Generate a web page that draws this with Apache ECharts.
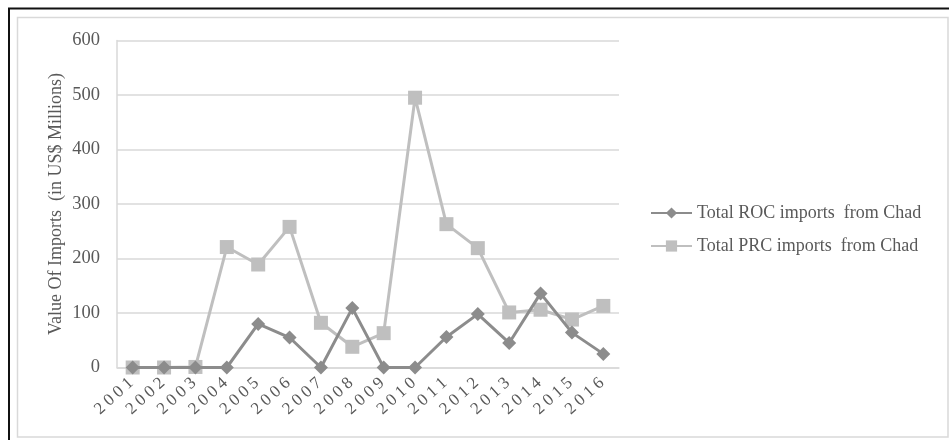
<!DOCTYPE html>
<html>
<head>
<meta charset="utf-8">
<script src="https://cdn.jsdelivr.net/npm/echarts@6/dist/echarts.min.js"></script>
<style>
  html, body { margin: 0; padding: 0; background: #ffffff; }
  #chart { width: 949px; height: 440px; }
</style>
</head>
<body>
<div id="chart"></div>
<script>
// Years on the category axis
const years = ['2001','2002','2003','2004','2005','2006','2007','2008',
               '2009','2010','2011','2012','2013','2014','2015','2016'];
// Imports from Chad, US$ millions
const rocImports = [0, 0, 0, 0, 80, 55, 0, 109, 0, 0, 56, 98, 45, 136, 64, 25];
const prcImports = [0, 0, 1, 221, 189, 258, 82, 38, 63, 495, 263, 219, 101, 106, 88, 113];
const seriesNames = ['Total ROC imports  from Chad', 'Total PRC imports  from Chad'];
const yTicks = { min: 0, max: 600, interval: 100 };

const font = 'Liberation Serif, Times New Roman, serif';
const textGray = '#595959';
const gridGray = '#d9d9d9';

const chart = echarts.init(document.getElementById('chart'), null, { renderer: 'canvas' });

// spread the digits of a year label apart (each digit is its own rich fragment)
function spacedYear(value) {
  return String(value).split('').map(function (ch) { return '{d|' + ch + '}'; }).join('');
}

chart.setOption({
  backgroundColor: '#ffffff',
  animation: false,
  textStyle: { fontFamily: font, color: textGray },
  graphic: [
    // inner light frame
    { type: 'rect', silent: true, z: 0,
      shape: { x: 17.5, y: 17.5, width: 930.5, height: 419.5 },
      style: { fill: 'none', stroke: '#d9d9d9', lineWidth: 1.5 } },
    // dark frame along the top and left
    { type: 'line', silent: true, z: 0,
      shape: { x1: 8, y1: 8.5, x2: 949, y2: 8.5 },
      style: { stroke: '#111111', lineWidth: 2 } },
    { type: 'line', silent: true, z: 0,
      shape: { x1: 9, y1: 8, x2: 9, y2: 440 },
      style: { stroke: '#111111', lineWidth: 2 } }
  ],
  grid: { left: 117, right: 330, top: 40.5, bottom: 72.5, containLabel: false },
  legend: {
    orient: 'vertical',
    left: 650,
    top: 204,
    padding: 0,
    itemGap: 15,
    itemWidth: 41,
    itemHeight: 14,
    textStyle: { fontFamily: font, fontSize: 18, color: textGray },
    data: seriesNames
  },
  xAxis: {
    type: 'category',
    data: years,
    boundaryGap: true,
    axisLine: { show: true, lineStyle: { color: gridGray, width: 1.5 } },
    axisTick: { show: false },
    axisLabel: {
      rotate: 42,
      margin: 12,
      interval: 0,
      fontFamily: font,
      fontSize: 17,
      color: textGray,
      formatter: spacedYear,
      rich: {
        d: { fontFamily: font, fontSize: 17, color: textGray, padding: [0, 2, 0, 2] }
      }
    }
  },
  yAxis: {
    type: 'value',
    min: yTicks.min,
    max: yTicks.max,
    interval: yTicks.interval,
    name: 'Value Of Imports  (in US$ Millions)',
    nameLocation: 'middle',
    nameGap: 52,
    nameMoveOverlap: false,
    nameTextStyle: { fontFamily: font, fontSize: 18, color: textGray },
    axisLine: { show: true, lineStyle: { color: gridGray, width: 1.5 } },
    axisTick: { show: false },
    axisLabel: { margin: 17, fontFamily: font, fontSize: 18.5, color: textGray },
    splitLine: { show: true, lineStyle: { color: gridGray, width: 1.5 } }
  },
  series: [
    {
      name: seriesNames[0],
      type: 'line',
      data: rocImports,
      symbol: 'diamond',
      symbolSize: [14, 14],
      z: 3,
      itemStyle: { color: '#8c8c8c' },
      lineStyle: { color: '#8c8c8c', width: 3 }
    },
    {
      name: seriesNames[1],
      type: 'line',
      data: prcImports,
      symbol: 'rect',
      symbolSize: 14,
      z: 2,
      itemStyle: { color: '#bfbfbf' },
      lineStyle: { color: '#bfbfbf', width: 3 }
    }
  ]
});
</script>
</body>
</html>
